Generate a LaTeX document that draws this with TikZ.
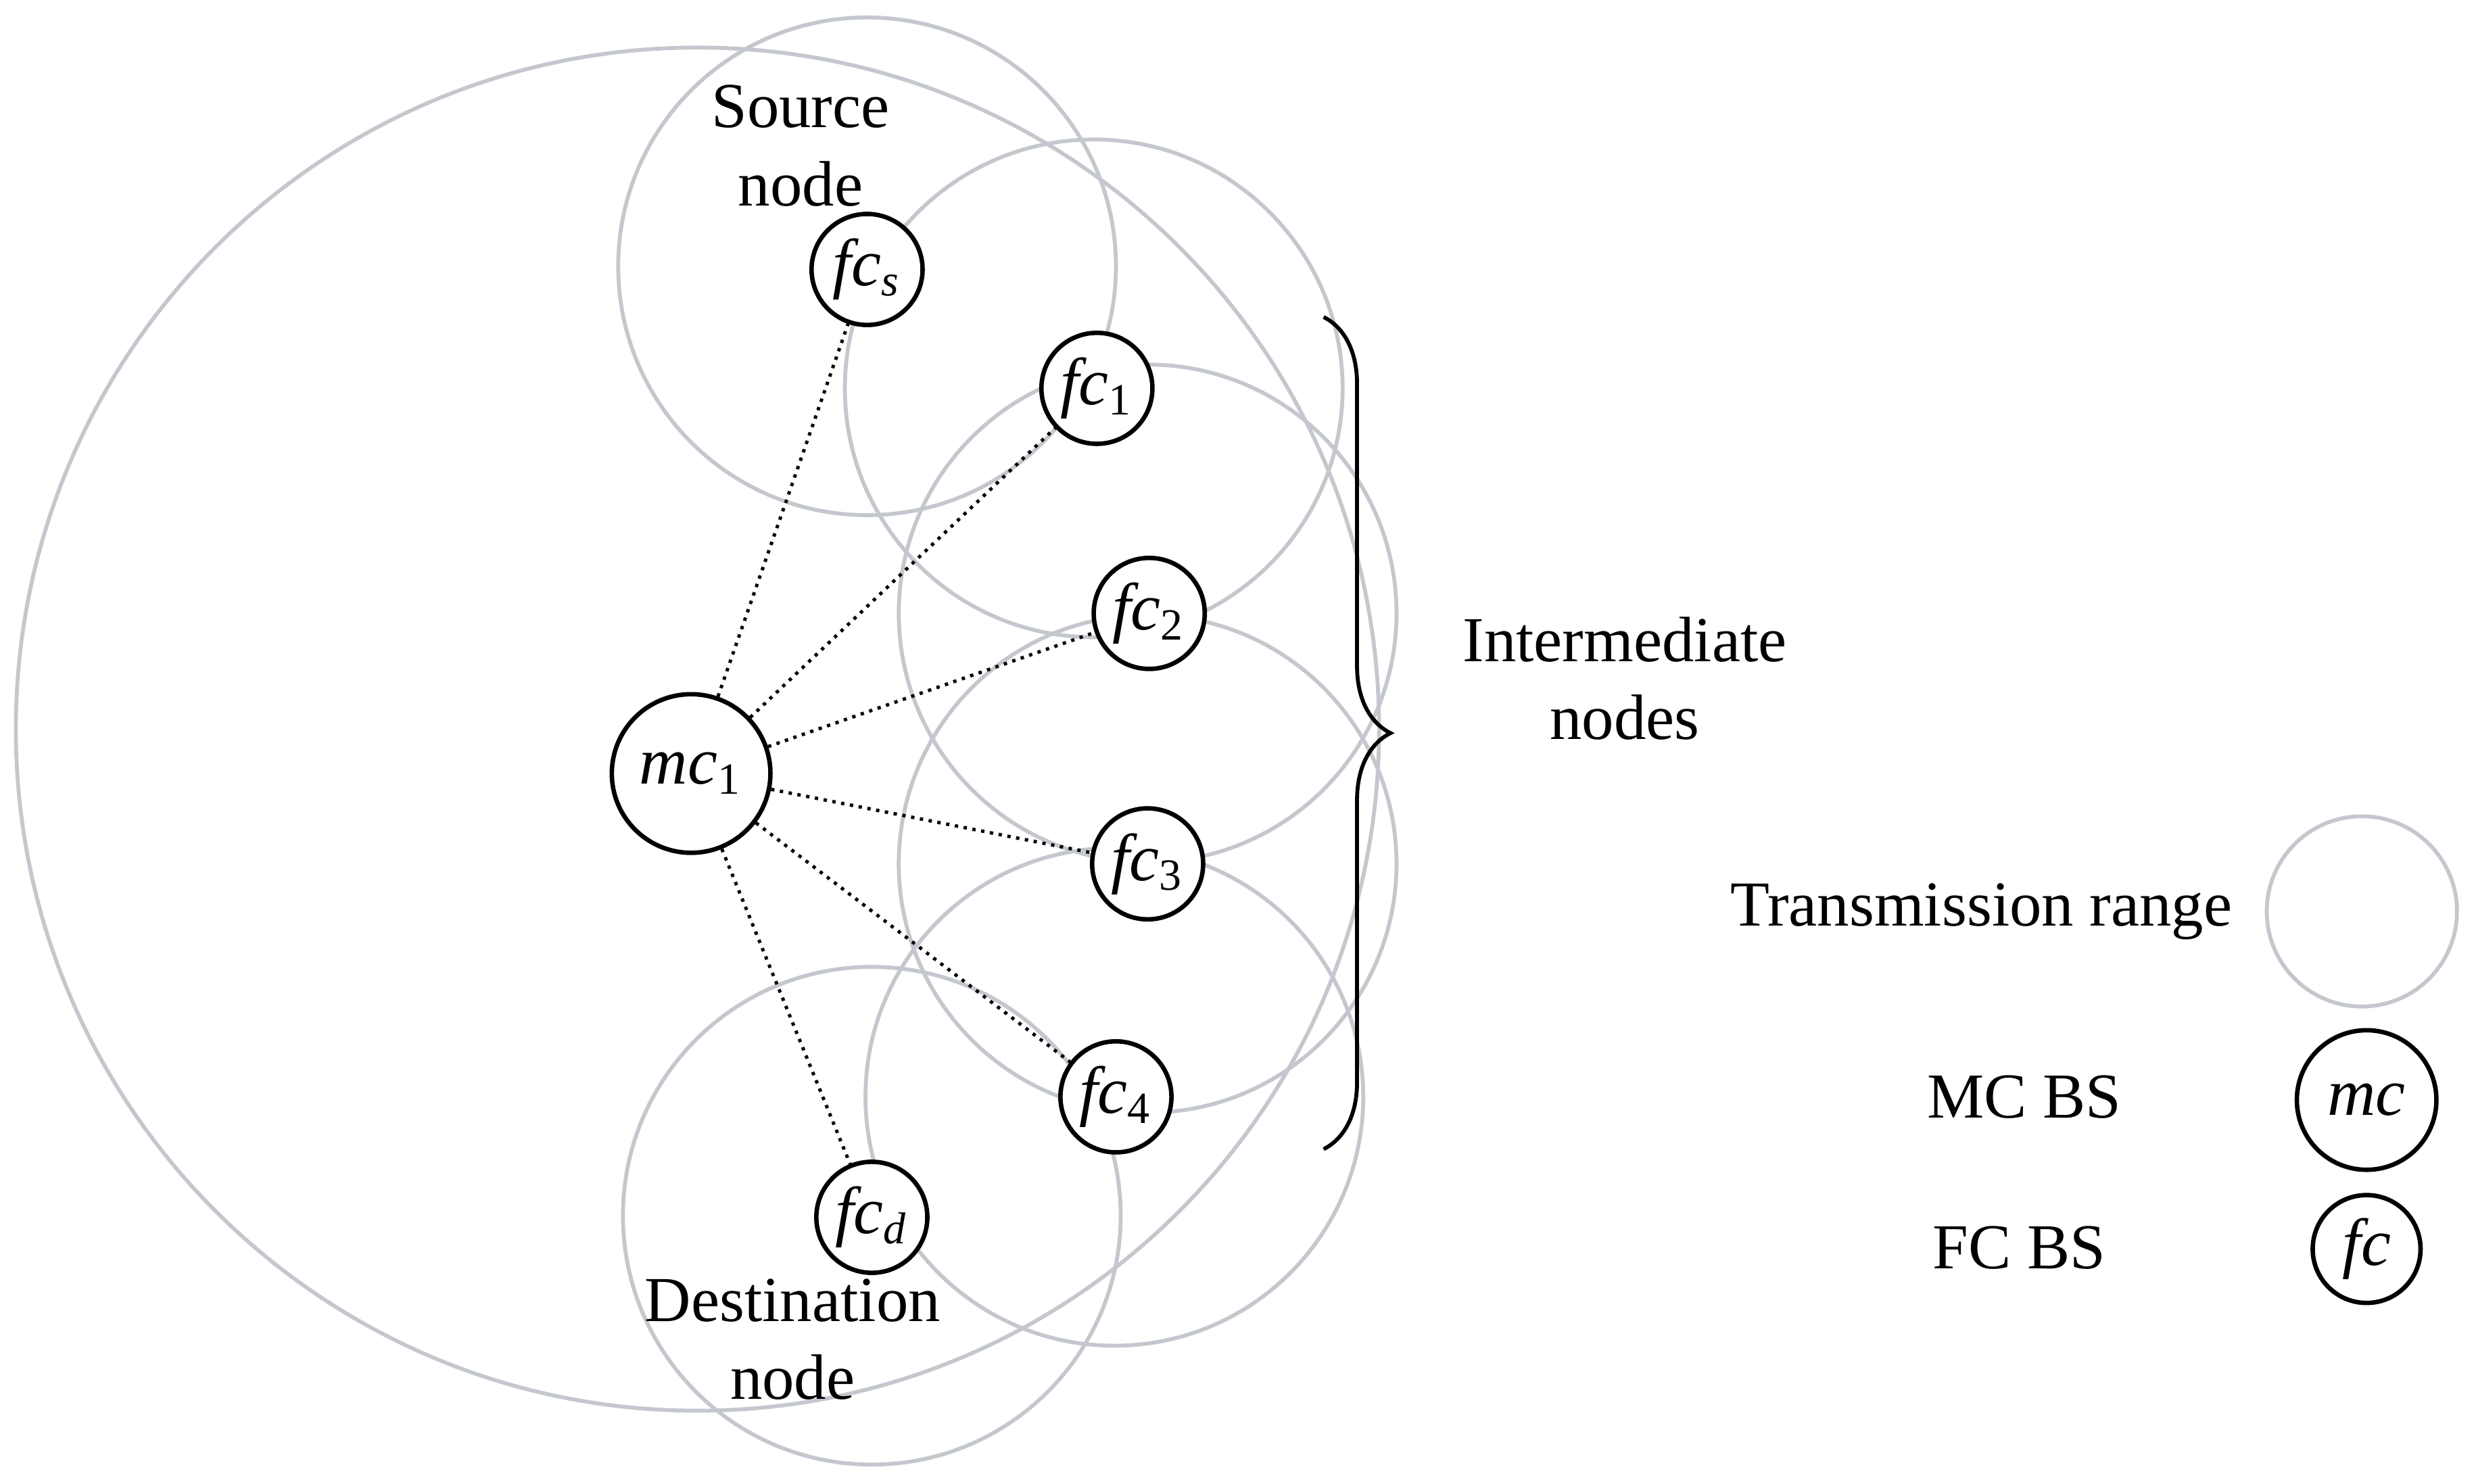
\documentclass[tikz,border=0pt]{standalone}
\usepackage{fontspec}
\setmainfont{Liberation Serif}
\usepackage{tikz}
\usetikzlibrary{decorations.pathreplacing}
\definecolor{rangegray}{RGB}{196,200,206}
\newcommand{\bslbl}[2]{\textit{#1}\textsubscript{#2}}

\begin{document}
\begin{tikzpicture}[x=0.01cm, y=-0.01cm,
    txrange/.style={draw=rangegray, line width=0.7pt},
    bs/.style={circle, draw, line width=0.8pt, inner sep=0pt, font=\fontsize{12}{12}\selectfont},
    lbl/.style={font=\fontsize{11.5}{14}\selectfont, align=center}]
    \useasboundingbox (0,0) rectangle (1562,936);

    % Transmission ranges
    \draw[txrange] (440,460) circle (430);
    \foreach \x/\y in {547/168, 690/245, 724/387, 724/545, 703/692, 550/767} {
        \draw[txrange] (\x,\y) circle (157);
    }

    % Base stations
    \node[bs, minimum size=1.0cm, fill=white] (mc1) at (436,488) {\bslbl{mc}{1}};
    \node[bs, minimum size=0.7cm, fill=white] (fcs) at (547,170) {\bslbl{fc}{\textit{s}}};
    \node[bs, minimum size=0.7cm, fill=white] (fc1) at (692,245) {\bslbl{fc}{1}};
    \node[bs, minimum size=0.7cm, fill=white] (fc2) at (725,387) {\bslbl{fc}{2}};
    \node[bs, minimum size=0.7cm, fill=white] (fc3) at (724,545) {\bslbl{fc}{3}};
    \node[bs, minimum size=0.7cm, fill=white] (fc4) at (704,692) {\bslbl{fc}{4}};
    \node[bs, minimum size=0.7cm, fill=white] (fcd) at (550,768) {\bslbl{fc}{\textit{d}}};

    % Links
    \foreach \n in {fcs, fc1, fc2, fc3, fc4, fcd} {
        \draw[densely dotted, line width=0.6pt] (mc1) -- (\n);
    }

    % Labels
    \node[lbl] (src) at (505,92) {Source\\node};
    \node[lbl] (dst) at (500,845) {Destination\\node};
    \coordinate (btop) at (835,200);
    \coordinate (bbot) at (835,725);
    \draw[decorate, decoration={brace, amplitude=12pt}, line width=0.7pt] (btop) -- (bbot);
    \node[lbl] (inter) at (1025,428) {Intermediate\\nodes};

    % Legend
    \draw[txrange] (1490,575) circle (60);
    \node[lbl] (ltr) at (1250,575) {Transmission range};
    \node[lbl] (lmc) at (1277,692) {MC BS};
    \node[bs, minimum size=0.88cm] (mc) at (1493,694) {\textit{mc}};
    \node[lbl] (lfc) at (1274,787) {FC BS};
    \node[bs, minimum size=0.68cm] (fc) at (1493,788) {\textit{fc}};
\end{tikzpicture}
\end{document}
